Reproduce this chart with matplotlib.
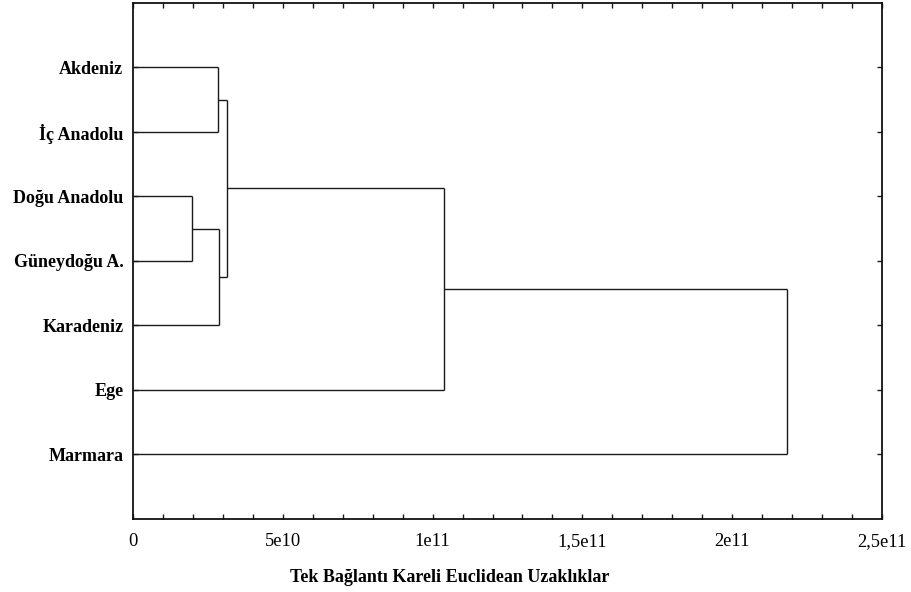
import matplotlib
matplotlib.use("Agg")
import matplotlib.pyplot as plt
from matplotlib.ticker import MultipleLocator, FixedLocator, FuncFormatter

plt.rcParams['font.family'] = ['Liberation Serif', 'DejaVu Serif']

# Leaf order from top to bottom
leaves = ["Akdeniz", "İç Anadolu", "Doğu Anadolu", "Güneydoğu A.",
          "Karadeniz", "Ege", "Marmara"]

# Single-linkage merges: (cluster a, cluster b, linkage distance)
# clusters 0..6 are leaves, each merge creates cluster 7, 8, ...
merge_a = [2, 0, 7, 8, 10, 11]
merge_b = [3, 1, 4, 9, 5, 6]
merge_dist = [1.96e10, 2.85e10, 2.87e10, 3.15e10, 1.038e11, 2.182e11]

xticks = [0, 5e10, 1e11, 1.5e11, 2e11, 2.5e11]
xticklabels = ["0", "5e10", "1e11", "1,5e11", "2e11", "2,5e11"]

fig = plt.figure(figsize=(9.11, 5.92), dpi=100)
ax = fig.add_axes([133 / 911, 1 - 518.5 / 592, 749 / 911, 515.5 / 592])

# Cluster positions: leaves at 1..n, merged clusters at mean of children
ypos = {i: i + 1 for i in range(len(leaves))}
xpos = {i: 0.0 for i in range(len(leaves))}
line_kw = dict(color="#1a1a1a", lw=1.0, solid_capstyle="butt")
for k, (a, b, d) in enumerate(zip(merge_a, merge_b, merge_dist)):
    new = len(leaves) + k
    ax.plot([xpos[a], d], [ypos[a], ypos[a]], **line_kw)
    ax.plot([xpos[b], d], [ypos[b], ypos[b]], **line_kw)
    ax.plot([d, d], [ypos[a], ypos[b]], **line_kw)
    ypos[new] = (ypos[a] + ypos[b]) / 2
    xpos[new] = d

ax.set_xlim(0, 2.5e11)
ax.set_ylim(len(leaves) + 1, 0)

ax.xaxis.set_major_locator(FixedLocator(xticks))
ax.xaxis.set_major_formatter(FuncFormatter(lambda v, p: xticklabels[xticks.index(v)] if v in xticks else ""))
ax.xaxis.set_minor_locator(MultipleLocator(1e10))
ax.set_yticks(range(1, len(leaves) + 1))
ax.set_yticklabels(leaves, fontweight="bold", fontsize=13)

ax.tick_params(axis="both", which="both", direction="in", top=True, right=True,
               length=3.5, width=1.0, color="#1a1a1a")
ax.tick_params(axis="x", which="major", labelsize=13.3, pad=10.5)
ax.tick_params(axis="y", which="major", pad=7)

for s in ax.spines.values():
    s.set_linewidth(1.3)
    s.set_color("#111111")

fig.text(450 / 911, 1 - 578 / 592, "Tek Bağlantı Kareli Euclidean Uzaklıklar",
         ha="center", va="center", fontsize=13, fontweight="bold")

fig.savefig("out.png", dpi=100)
